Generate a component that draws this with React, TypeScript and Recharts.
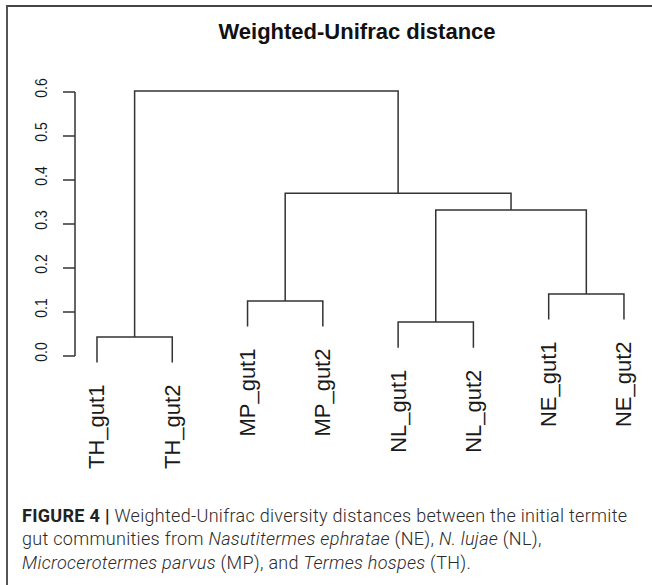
import { ComposedChart, Line, ReferenceLine, Scatter, XAxis, YAxis } from 'recharts'

// leaves in plotting order
const leafNames = ['TH_gut1', 'TH_gut2', 'MP_gut1', 'MP_gut2', 'NL_gut1', 'NL_gut2', 'NE_gut1', 'NE_gut2']

// hclust-style merges: negative = leaf (1-based), positive = earlier merge (1-based)
const mergeLeft = [-1, -5, -3, -7, 2, 3, 1]
const mergeRight = [-2, -6, -4, -8, 4, 5, 6]
const mergeHeight = [0.043, 0.077, 0.125, 0.141, 0.332, 0.37, 0.602]
const hang = 0.058

const yTicks = [0, 0.1, 0.2, 0.3, 0.4, 0.5, 0.6]
const xDomain = [0.708, 8.306]
const yDomain = [-0.05, 0.65]

const INK = '#333'

function nodeX(ref: number): number {
  if (ref < 0) return -ref
  return (nodeX(mergeLeft[ref - 1]) + nodeX(mergeRight[ref - 1])) / 2
}

function childY(ref: number, h: number) {
  return ref < 0 ? h - hang : mergeHeight[ref - 1]
}

const segments = mergeHeight.map((h, i) => {
  const l = mergeLeft[i]
  const r = mergeRight[i]
  return [
    { x: nodeX(l), y: childY(l, h) },
    { x: nodeX(l), y: h },
    { x: nodeX(r), y: h },
    { x: nodeX(r), y: childY(r, h) },
  ]
})

const leafEnds = leafNames.map((name, idx) => {
  const leaf = -(idx + 1)
  const k = mergeLeft.findIndex((v, j) => v === leaf || mergeRight[j] === leaf)
  return { x: idx + 1, y: mergeHeight[k] - hang, name }
})

const YTick = (props: any) => {
  const { x, y, payload } = props
  return (
    <text
      transform={`translate(${x},${y - 4}) rotate(-90) scale(0.82,1)`}
      textAnchor="middle"
      dominantBaseline="central"
      fontSize={17}
      fontFamily="'Liberation Sans', Arial, sans-serif"
      fill="#1a1a1a"
    >
      {payload.value.toFixed(1)}
    </text>
  )
}

const LeafLabel = (props: any) => {
  const { cx, cy, payload } = props
  return (
    <text
      transform={`translate(${cx},${cy + 22}) rotate(-90)`}
      textAnchor="end"
      dominantBaseline="central"
      fontSize={22}
      fontFamily="'Liberation Sans', Arial, sans-serif"
      fill="#1a1a1a"
    >
      {payload.name}
    </text>
  )
}

export default function App() {
  return (
    <div style={{ position: 'absolute', left: 0, top: 0, width: 652, height: 585, background: '#fff', overflow: 'hidden' }}>
      <div
        style={{
          position: 'absolute',
          left: 6,
          top: 5,
          width: 646,
          height: 580,
          borderLeft: '2px solid #555',
          borderTop: '2px solid #444',
        }}
      />
      <div
        style={{
          position: 'absolute',
          left: 357,
          top: 21,
          transform: 'translateX(-50%)',
          whiteSpace: 'nowrap',
          fontFamily: "'Liberation Sans', Arial, sans-serif",
          fontWeight: 700,
          fontSize: 22,
          lineHeight: '22px',
          color: '#111',
        }}
      >
        Weighted-Unifrac distance
      </div>
      <div style={{ position: 'absolute', left: 0, top: 0 }}>
        <ComposedChart width={652} height={585} margin={{ top: 70, right: 5, bottom: 207, left: 0 }}>
          <XAxis type="number" dataKey="x" domain={xDomain} hide />
          <YAxis
            type="number"
            dataKey="y"
            domain={yDomain}
            ticks={yTicks}
            width={75}
            tickSize={12}
            tickMargin={22}
            axisLine={false}
            tickLine={{ stroke: INK, strokeWidth: 1.5 }}
            tick={<YTick />}
            interval={0}
          />
          <ReferenceLine
            segment={[
              { x: xDomain[0], y: yTicks[0] },
              { x: xDomain[0], y: yTicks[yTicks.length - 1] },
            ]}
            stroke={INK}
            strokeWidth={1.5}
            ifOverflow="visible"
          />
          {segments.map((seg, i) => (
            <Line
              key={i}
              data={seg}
              dataKey="y"
              type="linear"
              stroke={INK}
              strokeWidth={1.5}
              dot={false}
              activeDot={false}
              isAnimationActive={false}
            />
          ))}
          <Scatter data={leafEnds} dataKey="y" shape={<LeafLabel />} isAnimationActive={false} />
        </ComposedChart>
      </div>
      <div
        style={{
          position: 'absolute',
          left: 22,
          top: 504,
          fontFamily: 'Roboto, sans-serif',
          fontWeight: 300,
          fontSize: 18,
          letterSpacing: 0.3,
          lineHeight: '23.3px',
          color: '#2a2a2a',
          whiteSpace: 'nowrap',
        }}
      >
        <div>
          <b style={{ fontWeight: 700, color: '#222' }}>FIGURE 4 |</b> Weighted-Unifrac diversity distances between the initial termite
        </div>
        <div>
          gut communities from <i>Nasutitermes ephratae</i> (NE), <i>N. lujae</i> (NL),
        </div>
        <div>
          <i>Microcerotermes parvus</i> (MP), and <i>Termes hospes</i> (TH).
        </div>
      </div>
    </div>
  )
}
